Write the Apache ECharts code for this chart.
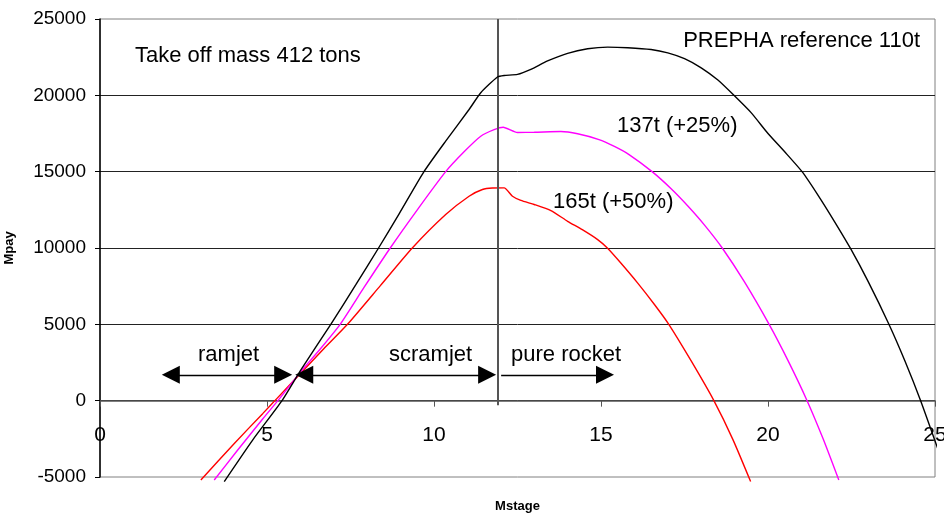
<!DOCTYPE html>
<html>
<head>
<meta charset="utf-8">
<script src="https://cdn.jsdelivr.net/npm/echarts@6/dist/echarts.min.js"></script>
<style>html,body{margin:0;padding:0;background:#fff}#c{width:944px;height:514px}</style>
</head>
<body>
<div id="c"></div>
<script>
// ---- data ----
const xTicks = [0, 5, 10, 15, 20, 25];
const yTicks = [-5000, 0, 5000, 10000, 15000, 20000, 25000];

const ref110x = [3.72, 4.57, 5.45, 6.01, 6.91, 7.66, 8.34, 8.96, 9.70, 10.35, 11.05, 11.40, 11.9, 12.1, 12.5, 12.9, 13.4, 14.0, 14.6, 15.2, 15.8, 16.5, 17.0, 17.5, 18.0, 18.5, 18.98, 19.5, 20.0, 20.5, 21.02, 21.5, 22.0, 22.47, 23.0, 23.62, 24.1, 24.57, 25.1];
const ref110y = [-5300, -2580, 0, 2000, 5000, 7600, 10000, 12250, 15000, 17000, 19070, 20170, 21200, 21300, 21370, 21700, 22250, 22750, 23050, 23160, 23120, 23000, 22780, 22400, 21800, 21000, 20000, 18850, 17500, 16300, 15000, 13450, 11700, 9970, 7800, 5010, 2600, 0, -3250];

const m137x = [3.42, 4.1, 4.87, 5.4, 6.01, 6.6, 7.19, 7.9, 8.69, 9.5, 10.35, 10.9, 11.4, 11.8, 12.07, 12.5, 13.0, 13.8, 14.3, 14.94, 15.4, 15.84, 16.53, 17.1, 17.6, 18.1, 18.63, 19.3, 20.03, 20.6, 21.17, 21.65, 22.12];
const m137y = [-5200, -3300, -1200, 200, 1900, 3400, 5000, 7400, 10000, 12500, 15000, 16300, 17320, 17750, 17910, 17570, 17580, 17630, 17480, 17100, 16650, 16120, 15000, 13880, 12750, 11500, 10000, 7760, 5010, 2620, 0, -2500, -5200];

const m165x = [3.02, 4.0, 4.87, 5.3, 6.01, 6.7, 7.41, 8.4, 9.35, 10.35, 11.05, 11.45, 11.75, 12.1, 12.35, 12.6, 13.0, 13.5, 14.0, 14.44, 14.9, 15.19, 15.6, 16.1, 16.6, 17.03, 17.7, 18.38, 18.95, 19.48];
const m165y = [-5200, -2850, -850, 150, 1800, 3400, 5000, 7550, 10000, 12190, 13390, 13830, 13930, 13940, 13390, 13120, 12850, 12450, 11750, 11200, 10550, 10000, 9000, 7700, 6300, 5000, 2600, 0, -2550, -5300];

// phase arrows (x start, x end) at payload level arrowY
const phaseNames = ['ramjet', 'scramjet', 'pure rocket'];
const phaseStart = [2.12, 6.115, 12.01];
const phaseEnd = [5.485, 11.59, 15.12];
const arrowY = 1690;
const stageLimitX = 11.9;

// ---- chart ----
const pairs = (xs, ys) => xs.map((x, i) => [x, ys[i]]);
const FONT = 'Liberation Sans, Arial, sans-serif';
const chart = echarts.init(document.getElementById('c'), null, {renderer: 'canvas'});

const arrowLines = phaseNames.map((n, i) => [
  {coord: [phaseStart[i], arrowY], symbol: i === 2 ? 'none' : 'triangle', symbolSize: [18, 18]},
  {coord: [phaseEnd[i], arrowY], symbol: 'triangle', symbolSize: [18, 18]}
]);

chart.setOption({
  animation: false,
  backgroundColor: '#fff',
  grid: {left: 100, right: 9, top: 19, bottom: 37, containLabel: false, outerBoundsMode: 'none',
         show: true, borderColor: '#808080', borderWidth: 1, backgroundColor: 'transparent'},
  xAxis: {
    type: 'value', min: xTicks[0], max: xTicks[xTicks.length - 1], interval: 5,
    axisLine: {onZero: true, lineStyle: {color: '#555', width: 1.5}},
    axisTick: {show: true, length: 6, lineStyle: {color: '#555'}},
    axisLabel: {color: '#000', fontSize: 21, fontFamily: FONT, margin: -52, formatter: v => String(v)},
    splitLine: {show: false},
    name: 'Mstage', nameLocation: 'middle', nameGap: 23,
    nameTextStyle: {color: '#000', fontWeight: 'bold', fontSize: 13, fontFamily: FONT}
  },
  yAxis: {
    type: 'value', min: yTicks[0], max: yTicks[yTicks.length - 1], interval: 5000,
    axisLine: {show: true, onZero: false, lineStyle: {color: '#000', width: 1.5}},
    axisTick: {show: true, length: 5, lineStyle: {color: '#000'}},
    axisLabel: {color: '#000', fontSize: 19, fontFamily: FONT, margin: 14, formatter: v => String(v)},
    splitLine: {show: true, showMinLine: false, showMaxLine: false, lineStyle: {color: '#222', width: 1}},
    name: 'Mpay', nameLocation: 'middle', nameRotate: 90, nameGap: 84,
    nameTextStyle: {color: '#000', fontWeight: 'bold', fontSize: 13, fontFamily: FONT}
  },
  series: [
    {
      name: '165t (+50%)', type: 'line', data: pairs(m165x, m165y), showSymbol: false, clip: false,
      smooth: 0.2, lineStyle: {color: '#ff0000', width: 1.4}, z: 3
    },
    {
      name: '137t (+25%)', type: 'line', data: pairs(m137x, m137y), showSymbol: false, clip: false,
      smooth: 0.2, lineStyle: {color: '#ff00ff', width: 1.4}, z: 4
    },
    {
      name: 'PREPHA reference 110t', type: 'line', data: pairs(ref110x, ref110y), showSymbol: false, clip: false,
      smooth: 0.2, lineStyle: {color: '#000', width: 1.4}, z: 5,
      markLine: {
        silent: true, animation: false, label: {show: false},
        data: [
          [{coord: [stageLimitX, yTicks[yTicks.length - 1]], symbol: 'none', lineStyle: {color: '#555', width: 2}},
           {coord: [stageLimitX, -300], symbol: 'none'}]
        ].concat(arrowLines),
        lineStyle: {color: '#000', width: 1.3, type: 'solid'},
        itemStyle: {color: '#000'}
      }
    }
  ],
  graphic: [
    {type: 'text', left: 135, top: 45, style: {text: 'Take off mass 412 tons', font: '22px ' + FONT, fill: '#000'}},
    {type: 'text', right: 24, top: 30, style: {text: 'PREPHA reference 110t', font: '22px ' + FONT, fill: '#000'}},
    {type: 'text', left: 617, top: 115, style: {text: '137t (+25%)', font: '22px ' + FONT, fill: '#000'}},
    {type: 'text', left: 553, top: 191, style: {text: '165t (+50%)', font: '22px ' + FONT, fill: '#000'}},
    {type: 'text', left: 198, top: 344, style: {text: phaseNames[0], font: '22px ' + FONT, fill: '#000'}},
    {type: 'text', left: 389, top: 344, style: {text: phaseNames[1], font: '22px ' + FONT, fill: '#000'}},
    {type: 'text', left: 511, top: 344, style: {text: phaseNames[2], font: '22px ' + FONT, fill: '#000'}}
  ]
});
</script>
</body>
</html>
